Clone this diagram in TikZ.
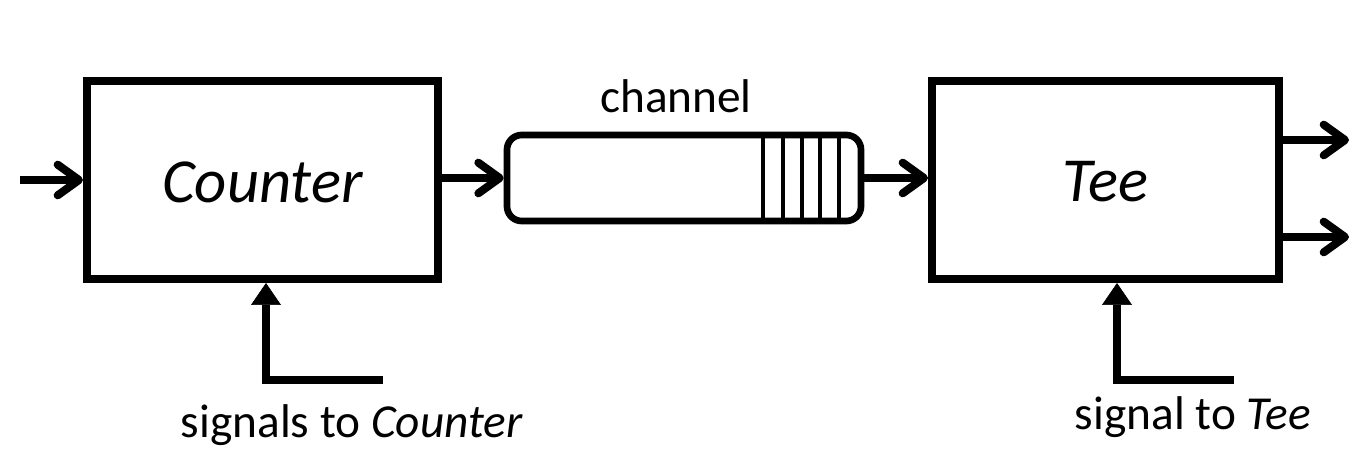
\documentclass[tikz,border=0pt]{standalone}
\usepackage{fontspec}
\setmainfont{Carlito}
\usetikzlibrary{arrows.meta}
\begin{document}
\begin{tikzpicture}[x=0.75pt,y=-0.75pt,
  block/.style={draw, line width=6pt, minimum height=148.5pt, inner sep=0pt},
  queue/.style={draw, line width=5pt, rounded corners=11pt, minimum width=265.5pt, minimum height=64.5pt, inner sep=0pt},
  slot/.style={line width=2.6pt},
  arr/.style={line width=6pt, -{Straight Barb[length=16pt,width=23pt,line cap=round,line join=round]}},
  sig/.style={line width=6pt, -{Triangle[length=16.5pt,width=22.5pt,line width=0.5pt]}},
  big/.style={font=\fontsize{47}{56}\selectfont\itshape},
  lbl/.style={font=\fontsize{35.5}{42}\selectfont, anchor=base}
]
\useasboundingbox (0,0) rectangle (1363,466);
\node[block, minimum width=263.25pt] (cnt) at (262.5,180) {};
\node[block, minimum width=260.25pt] (tee) at (1105.5,180) {};
\node[queue] (ch) at (684,178) {};
\foreach \xx in {763,783,802,820,839} \draw[slot] (\xx,137) -- (\xx,219);
\node[big] (cntl) at (262.5,182) {Counter};
\node[big] (teel) at (1105.5,182) {Tee};
\node[lbl] (chl) at (676,113) {channel};
\node[lbl] (s1l) at (352,437) {signals to \textit{Counter}};
\node[lbl] (s2l) at (1193,429) {signal to \textit{Tee}};
\coordinate (in) at (20,180);
\draw[arr] (in) -- (cnt.west);
\draw[arr] (cnt.east |- ch.west) -- (ch.west);
\draw[arr] (ch.east) -- (tee.west |- ch.east);
\coordinate (o1) at (1349,140);
\coordinate (o2) at (1349,237);
\draw[arr] (tee.east |- o1) -- (o1);
\draw[arr] (tee.east |- o2) -- (o2);
\coordinate (a1) at (383,380);
\coordinate (b1) at (266,380);
\draw[sig] (a1) -- (b1) -- (b1 |- cnt.south);
\coordinate (a2) at (1234,380);
\coordinate (b2) at (1117,380);
\draw[sig] (a2) -- (b2) -- (b2 |- tee.south);
\end{tikzpicture}
\end{document}
